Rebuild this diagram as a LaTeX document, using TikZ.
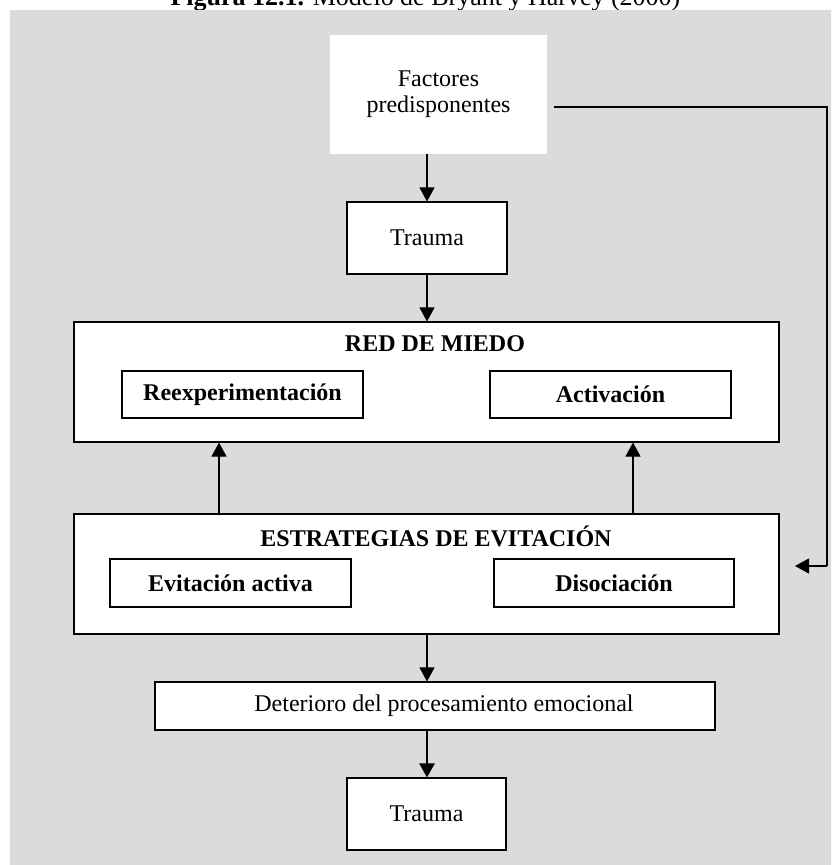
\documentclass[tikz,border=0pt]{standalone}
\usepackage{fontspec}
\setmainfont{Liberation Serif}
\usetikzlibrary{arrows.meta}
\definecolor{panelgray}{RGB}{219,219,219}
\definecolor{panellight}{RGB}{253,253,253}
\begin{document}
\begin{tikzpicture}[x=1pt,y=-1pt,
  txt/.style={font=\fontsize{24}{26}\selectfont},
  boxed/.style={draw=black,line width=1.1pt,fill=white,inner sep=0pt},
  inner/.style={boxed,minimum width=241pt,minimum height=47pt,
    font=\fontsize{24}{26}\selectfont\bfseries},
  group/.style={boxed,minimum width=705pt,minimum height=120pt},
  heading/.style={font=\fontsize{24}{26}\selectfont\bfseries,inner sep=0pt},
  arr/.style={line width=1.1pt,-{Triangle[length=14pt,width=15pt]}},
  thickarr/.style={line width=2.6pt,-{Triangle[length=14pt,width=15pt]}}]
\useasboundingbox (0,0) rectangle (831,865);
\clip (0,0) rectangle (831,865);

% caption line above the panel
\node[anchor=base,inner sep=0pt,font=\fontsize{26}{28}\selectfont] (caption) at (425.5,5.5)
  {\textbf{Figura 12.1.} Modelo de Bryant y Harvey (2000)};

% shaded panel
\shade[top color=panelgray,middle color=panellight,bottom color=panelgray]
  (10,10) rectangle (840,865);

% predisposing factors
\node[fill=white,inner sep=0pt,minimum width=217pt,minimum height=119pt,
  txt,align=center] (fac) at (438.5,94) {Factores\\predisponentes};

% first trauma
\node[boxed,txt,minimum width=160pt,minimum height=72pt] (tr1) at (427,238) {Trauma};

% fear network
\node[group] (red) at (426.5,382) {};
\node[heading] (redtitle) at (435,344) {RED DE MIEDO};
\node[inner] (reexp) at (242.5,394.5) {Reexperimentación};
\node[inner] (activ) at (610.5,394.5) {Activación};

% avoidance strategies
\node[group] (est) at (426.5,574) {};
\node[heading] (esttitle) at (436,536) {ESTRATEGIAS DE EVITACIÓN};
\node[inner,minimum height=48pt] (evit) at (230.5,583) {Evitación activa};
\node[inner,minimum height=48pt,minimum width=240pt] (disoc) at (614,583) {Disociación};

% impaired processing
\node[boxed,minimum width=560pt,minimum height=48pt] (det) at (435,706) {};
\node[txt,inner sep=0pt] (dettext) at (444,706) {Deterioro del procesamiento emocional};

% second trauma
\node[boxed,txt,minimum width=159pt,minimum height=72pt] (tr2) at (426.5,814) {Trauma};

% vertical flow
\draw[arr] (tr1.north |- fac.south) -- (tr1.north);
\draw[arr] (tr1.south) -- (red.north -| tr1.south);
\coordinate (upL) at (219,0);
\coordinate (upR) at (633,0);
\draw[arr] (est.north -| upL) -- (red.south -| upL);
\draw[arr] (est.north -| upR) -- (red.south -| upR);
\draw[arr] (est.south -| tr1.south) -- (det.north -| tr1.south);
\draw[thickarr] (det.south -| tr1.south) -- (tr2.north -| tr1.south);

% feedback from predisposing factors to avoidance
\coordinate (fbstart) at (554,107);
\coordinate (fbcorner) at (827,107);
\coordinate (fbtail) at (827,566);
\coordinate (fbend) at (795,566);
\draw[line width=1.1pt] (fbstart) -- (fbcorner) -- (fbtail);
\draw[arr] (fbtail) -- (fbend);
\end{tikzpicture}
\end{document}
